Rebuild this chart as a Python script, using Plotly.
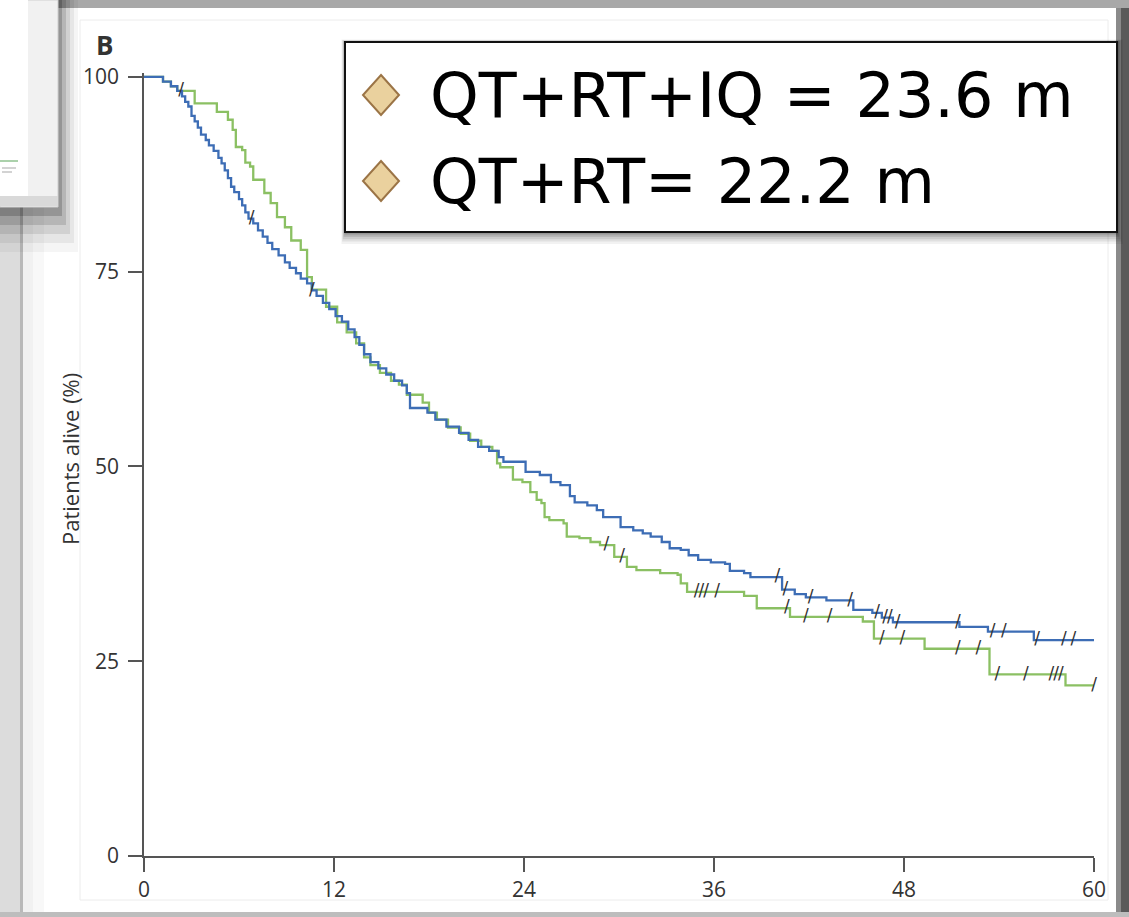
import plotly.graph_objects as go

# ---------------- data ----------------
# QT+RT+IQ (blue) Kaplan-Meier steps: months, % alive
blue_t = [0, 1.2, 1.7, 2.1, 2.4, 2.6, 2.8, 3.0, 3.2, 3.4, 3.6, 3.9, 4.1, 4.4, 4.7, 4.9, 5.1, 5.3,
          5.5, 5.7, 6.0, 6.2, 6.4, 6.6, 6.9, 7.2, 7.5, 7.8, 8.1, 8.5, 8.9, 9.2, 9.6, 9.9, 10.3,
          10.6, 10.9, 11.3, 11.7, 12.1, 12.5, 12.9, 13.3, 13.6, 13.9, 14.3, 14.8, 15.3, 15.8,
          16.3, 16.6, 16.8, 17.9, 18.4, 19.1, 19.9, 20.5, 21.1, 21.8, 22.4, 22.7, 24.1, 25.0,
          25.7, 26.3, 26.9, 27.2, 28.0, 28.6, 29.0, 30.1, 30.9, 31.5, 32.0, 32.7, 33.2, 33.9,
          34.4, 35.0, 35.8, 36.7, 37.0, 37.9, 38.3, 40.3, 41.1, 41.8, 43.1, 44.8, 46.0, 46.6,
          47.3, 51.5, 53.3, 56.2, 60.0]
blue_s = [100, 99.4, 98.8, 98.2, 97.5, 96.8, 96.2, 95.0, 94.3, 93.5, 92.6, 91.9, 91.2, 90.5, 89.6,
          88.9, 88.0, 87.0, 85.9, 85.2, 84.3, 83.5, 82.6, 81.8, 81.2, 80.3, 79.5, 78.7, 77.9, 77.1,
          76.2, 75.5, 74.8, 74.1, 73.5, 72.6, 71.9, 71.0, 70.2, 69.3, 68.6, 67.6, 66.6, 65.6, 64.4,
          63.4, 62.6, 61.8, 61.0, 60.4, 59.4, 57.5, 56.9, 56.0, 55.1, 54.3, 53.4, 52.5, 52.0, 51.2,
          50.6, 49.3, 48.9, 48.0, 47.6, 46.2, 45.4, 45.0, 44.4, 43.5, 42.2, 41.8, 41.4, 41.0, 40.3,
          39.5, 39.3, 38.6, 38.0, 37.7, 37.5, 36.6, 36.3, 35.8, 34.2, 33.6, 33.2, 32.8, 31.6, 31.2,
          30.6, 30.0, 29.4, 28.8, 27.7, 27.7]
blue_censor_t = [2.35, 6.8, 10.6, 40.0, 40.5, 42.1, 44.6, 46.3, 46.8, 47.1, 47.6, 51.4, 53.6, 54.3,
                 56.4, 58.1, 58.7]

# QT+RT (green) Kaplan-Meier steps
green_t = [0, 1.2, 1.7, 2.1, 3.2, 4.6, 5.3, 5.6, 5.8, 6.2, 6.4, 6.7, 6.9, 7.6, 8.0, 8.4, 8.9, 9.3,
           9.9, 10.3, 10.6, 11.5, 12.2, 12.8, 13.4, 13.9, 14.3, 14.9, 15.6, 16.1, 16.6, 17.6,
           18.0, 18.5, 19.2, 20.0, 20.6, 21.3, 22.0, 22.3, 22.5, 23.3, 23.9, 24.4, 24.8, 25.1,
           25.3, 25.6, 26.5, 26.7, 27.5, 28.2, 28.8, 29.7, 30.5, 31.1, 32.6, 33.7, 33.9, 34.3,
           37.9, 38.7, 40.8, 45.4, 46.1, 49.3, 53.4, 58.2, 60.0]
green_s = [100, 99.4, 98.8, 98.2, 96.6, 95.5, 94.5, 93.2, 91.0, 90.6, 89.0, 88.5, 86.8, 85.1, 83.8,
           82.0, 80.7, 79.0, 77.8, 74.3, 72.7, 70.5, 68.5, 67.2, 65.8, 64.0, 63.0, 62.0, 61.0, 60.5,
           59.2, 58.2, 56.9, 56.0, 55.0, 54.2, 53.3, 52.5, 52.0, 50.4, 49.9, 48.3, 48.0, 46.7, 45.7,
           45.3, 43.5, 43.1, 42.7, 41.0, 40.8, 40.3, 39.9, 38.4, 37.1, 36.7, 36.3, 36.1, 35.0, 33.9,
           33.4, 31.8, 30.7, 30.1, 27.9, 26.6, 23.3, 21.9, 21.9]
green_censor_t = [29.2, 30.2, 34.9, 35.2, 35.5, 36.2, 40.6, 41.8, 43.3, 46.6, 47.9, 51.4, 52.7,
                  53.9, 55.7, 57.3, 57.6, 57.9, 60.0]

x_ticks = [0, 12, 24, 36, 48, 60]
y_ticks = [0, 25, 50, 75, 100]
legend_lines = ["QT+RT+IQ = 23.6 m", "QT+RT= 22.2 m"]
y_title = "Patients alive (%)"
panel_letter = "B"
censor_glyph = "/"


def step_value(ts, ss, t):
    v = ss[0]
    for ti, si in zip(ts, ss):
        if ti <= t:
            v = si
    return v


# ---------------- geometry ----------------
W, H = 1129, 917
L, R, T, B = 144, 1094, 73, 856


def px(x):
    return (x - L) / (R - L)


def py(y):
    return (B - y) / (B - T)


BLUE = "#3d6db5"
GREEN = "#8bc063"
MARK = "#333333"

fig = go.Figure()
fig.add_trace(go.Scatter(x=green_t, y=green_s, mode="lines", line=dict(color=GREEN, width=2.3, shape="hv"),
                         name=legend_lines[1], showlegend=False, hoverinfo="skip"))
fig.add_trace(go.Scatter(x=blue_t, y=blue_s, mode="lines", line=dict(color=BLUE, width=2.3, shape="hv"),
                         name=legend_lines[0], showlegend=False, hoverinfo="skip"))
for ct, ts, ss in [(green_censor_t, green_t, green_s), (blue_censor_t, blue_t, blue_s)]:
    fig.add_trace(go.Scatter(x=ct, y=[step_value(ts, ss, t) for t in ct],
                             mode="text", text=[censor_glyph] * len(ct), textposition="middle center",
                             cliponaxis=False, showlegend=False, hoverinfo="skip",
                             textfont=dict(family="DejaVu Sans", size=17, color=MARK)))

shapes = []


def rect(x0, y0, x1, y1, fill, line=None, lw=0, layer="below"):
    shapes.append(dict(type="rect", xref="paper", yref="paper",
                       x0=px(x0), x1=px(x1), y0=py(y1), y1=py(y0),
                       fillcolor=fill, line=dict(color=line or "rgba(0,0,0,0)", width=lw), layer=layer))


# background shadows around panel
rect(1116, 0, W, H, "#5a5a5a")
rect(1114, 0, 1121, H, "#8a8a8a")
rect(0, 0, W, 8, "#a8a8a8")
rect(0, 912, W, H, "#bdbdbd")
# soft left edge of the main panel
rect(20, 8, 23, 912, "#b9b9b9")
rect(23, 8, 44, 912, "#f1f1f1")
rect(33, 8, 44, 912, "#f8f8f8")
# main white panel
rect(44, 8, 1116, 912, "#ffffff")
# faint figure frame
rect(80, 20, 1108, 900, "rgba(0,0,0,0)", line="#ececec", lw=1)

# partial slide at the top left with its shadow
for i, a in enumerate([0.04, 0.06, 0.09, 0.13, 0.18, 0.24]):
    rect(0, 0, 78 - i * 4, 252 - i * 9, "rgba(0,0,0,%.2f)" % a)
rect(0, 0, 58, 207, "#f1f1f1", line="#cfcfcf", lw=1)
rect(0, 0, 28, 196, "#ffffff")
rect(0, 196, 58, 206, "#d9d9d9")
shapes.append(dict(type="line", xref="paper", yref="paper", x0=px(0), x1=px(18), y0=py(161), y1=py(161),
                   line=dict(color="#8fc28f", width=1.5), layer="below"))
for yy, x1 in [(168, 16), (172, 12)]:
    shapes.append(dict(type="line", xref="paper", yref="paper", x0=px(2), x1=px(x1), y0=py(yy), y1=py(yy),
                       line=dict(color="#c4c4c4", width=1.5), layer="below"))

# legend box with shadow
for i, a in enumerate([0.05, 0.07, 0.09, 0.12, 0.16]):
    d = 12 - i * 2.4
    rect(345 - d * 0.3, 42 - d * 0.2, 1117 + d * 0.5, 232 + d, "rgba(0,0,0,%.2f)" % a, layer="above")
rect(345, 42, 1117, 232, "#ffffff", line="#111111", lw=2, layer="above")

annotations = []
for cy, txt in zip([95, 181], legend_lines):
    cx = 381
    hw, hh = 18, 20
    path = "M {},{} L {},{} L {},{} L {},{} Z".format(px(cx), py(cy - hh), px(cx + hw), py(cy),
                                                      px(cx), py(cy + hh), px(cx - hw), py(cy))
    shapes.append(dict(type="path", xref="paper", yref="paper", path=path,
                       fillcolor="#ead19e", line=dict(color="#9b7446", width=2), layer="above"))
    annotations.append(dict(xref="paper", yref="paper", x=px(428), y=py(cy), xanchor="left", yanchor="middle",
                            text=txt, showarrow=False,
                            font=dict(family="DejaVu Sans", size=62, color="#000000")))

annotations.append(dict(xref="paper", yref="paper", x=px(70), y=py(459), xanchor="center", yanchor="middle",
                        text=y_title, textangle=-90, showarrow=False,
                        font=dict(family="Open Sans", size=22, color="#333333")))
annotations.append(dict(xref="paper", yref="paper", x=px(104), y=py(45), xanchor="center", yanchor="middle",
                        text="<b>%s</b>" % panel_letter, showarrow=False,
                        font=dict(family="Open Sans", size=26, color="#333333")))

fig.update_layout(
    width=W, height=H,
    margin=dict(l=L, r=W - R, t=T, b=H - B),
    paper_bgcolor="#dcdcdc",
    plot_bgcolor="rgba(0,0,0,0)",
    shapes=shapes,
    annotations=annotations,
    showlegend=False,
    xaxis=dict(range=[0, 60], tickvals=x_ticks, ticktext=[str(v) for v in x_ticks],
               showgrid=False, zeroline=False, showline=True, linecolor="#555555", linewidth=1.5,
               ticks="outside", ticklen=14, tickwidth=1.5, tickcolor="#555555",
               tickfont=dict(family="Open Sans", size=21, color="#333333")),
    yaxis=dict(range=[0, 100.5], tickvals=y_ticks, ticktext=[str(v) for v in y_ticks],
               showgrid=False, zeroline=False, showline=True, linecolor="#555555", linewidth=1.5,
               ticks="outside", ticklen=14, tickwidth=1.5, tickcolor="#555555", ticklabelstandoff=5,
               tickfont=dict(family="Open Sans", size=21, color="#333333")),
)

fig.write_html("out.html", config={"displayModeBar": False},
               post_script="document.body.style.margin='0';document.body.style.overflow='hidden';")
